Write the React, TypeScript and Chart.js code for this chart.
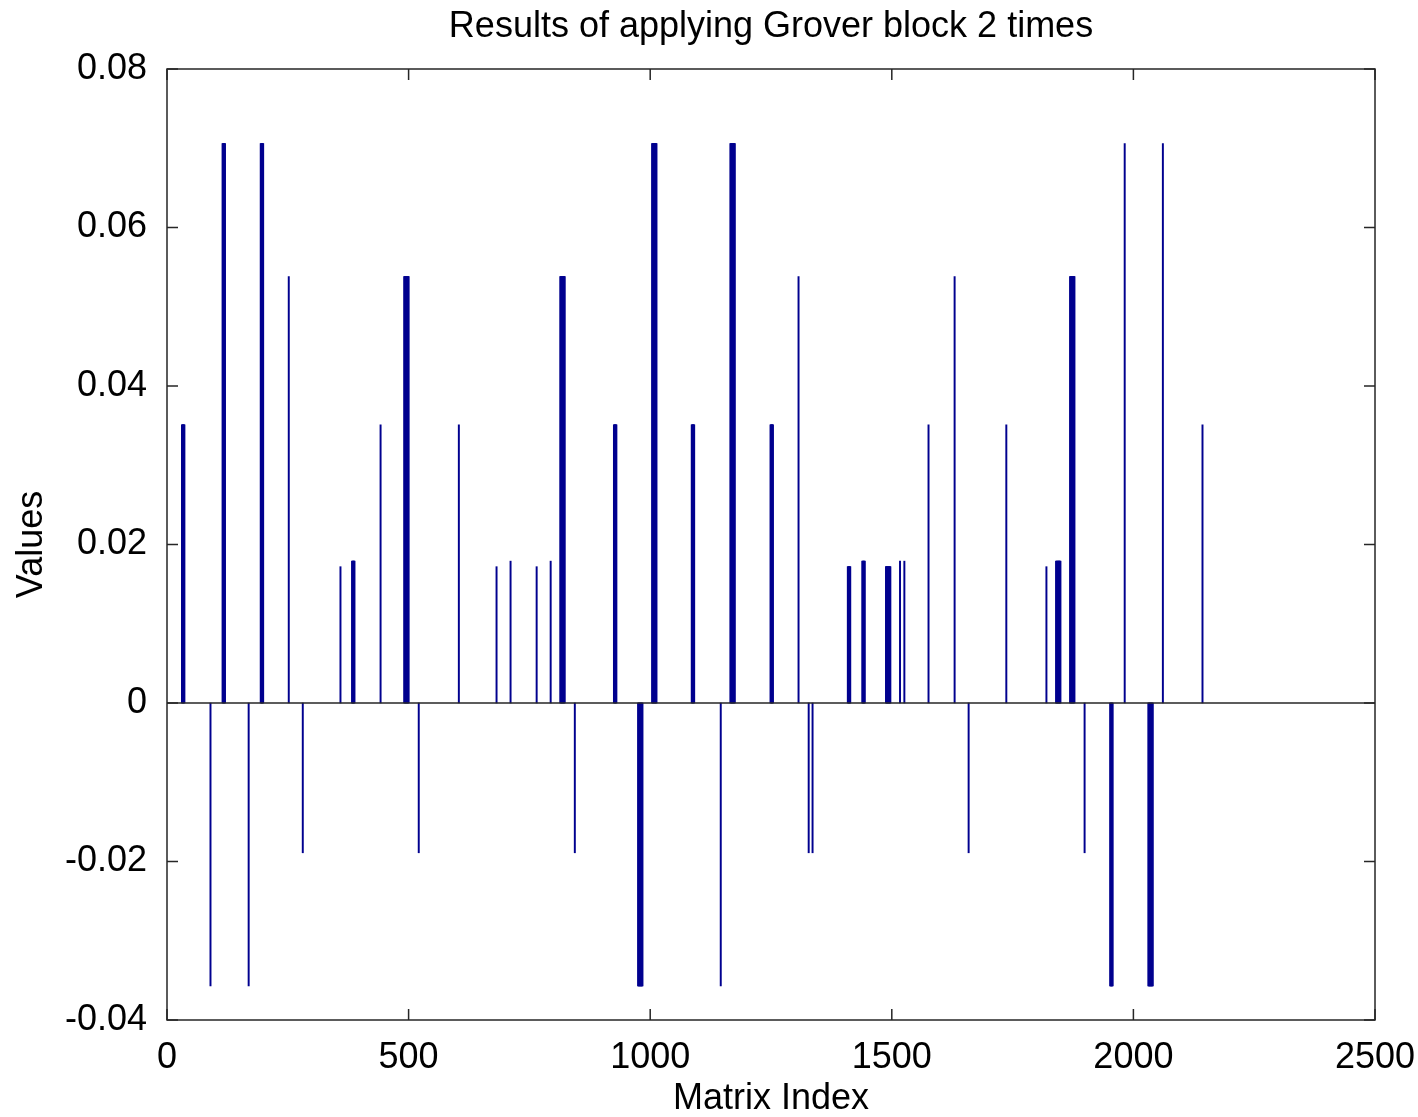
import React, { useEffect, useRef } from "react";
import { Chart, registerables } from "chart.js";

Chart.register(...registerables);

const chartTitle = "Results of applying Grover block 2 times";
const xAxisTitle = "Matrix Index";
const yAxisTitle = "Values";

const xTickValues = [0, 500, 1000, 1500, 2000, 2500];
const xTickLabels = ["0", "500", "1000", "1500", "2000", "2500"];
const yTickValues = [-0.04, -0.02, 0, 0.02, 0.04, 0.06, 0.08];
const yTickLabels = ["-0.04", "-0.02", "0", "0.02", "0.04", "0.06", "0.08"];

// matrix index (centre of each run of equal, adjacent entries)
const barIndex = [
  34, 90, 118, 169, 197, 252, 281, 359, 386, 442, 496, 521, 604, 682, 711, 765,
  794, 819, 844, 928, 980, 1009, 1089, 1146, 1171, 1252, 1307, 1328, 1336, 1412,
  1442, 1493, 1517, 1526, 1576, 1630, 1659, 1737, 1820, 1845, 1874, 1899, 1955,
  1982, 2036, 2061, 2143,
];

// value of those entries
const barValue = [
  0.0351, -0.0357, 0.0706, -0.0357, 0.0706, 0.0538, -0.0189, 0.0172, 0.0179,
  0.0351, 0.0538, -0.0189, 0.0351, 0.0172, 0.0179, 0.0172, 0.0179, 0.0538,
  -0.0189, 0.0351, -0.0357, 0.0706, 0.0351, -0.0357, 0.0706, 0.0351, 0.0538,
  -0.0189, -0.0189, 0.0172, 0.0179, 0.0172, 0.0179, 0.0179, 0.0351, 0.0538,
  -0.0189, 0.0351, 0.0172, 0.0179, 0.0538, -0.0189, -0.0357, 0.0706, -0.0357,
  0.0706, 0.0351,
];

// number of adjacent entries sharing the value
const barRun = [
  6, 1, 6, 1, 6, 1, 1, 1, 6, 1, 10, 1, 1, 1, 1, 1, 1, 10, 1, 6, 10, 10, 6, 1,
  10, 6, 1, 1, 1, 6, 6, 10, 1, 1, 1, 1, 1, 1, 1, 10, 10, 1, 6, 1, 10, 1, 1,
];

const FONT = "'Liberation Sans', Arial, Helvetica, sans-serif";
const FS = 36;

const framePlugin = {
  id: "matlabFrame",
  afterDatasetsDraw(chart: any) {
    const { ctx, chartArea: a, scales } = chart;
    const x = scales.x;
    const y = scales.y;
    ctx.save();
    ctx.strokeStyle = "#262626";
    ctx.lineWidth = 1.5;
    const y0 = y.getPixelForValue(0);
    ctx.beginPath();
    ctx.moveTo(a.left, y0);
    ctx.lineTo(a.right, y0);
    ctx.stroke();
    ctx.strokeRect(a.left, a.top, a.right - a.left, a.bottom - a.top);
    const tl = 11;
    ctx.beginPath();
    xTickValues.forEach((v) => {
      const px = x.getPixelForValue(v);
      ctx.moveTo(px, a.bottom);
      ctx.lineTo(px, a.bottom - tl);
      ctx.moveTo(px, a.top);
      ctx.lineTo(px, a.top + tl);
    });
    yTickValues.forEach((v) => {
      const py = y.getPixelForValue(v);
      ctx.moveTo(a.left, py);
      ctx.lineTo(a.left + tl, py);
      ctx.moveTo(a.right, py);
      ctx.lineTo(a.right - tl, py);
    });
    ctx.stroke();
    ctx.restore();
  },
};

export default function App() {
  const canvasRef = useRef<HTMLCanvasElement | null>(null);

  useEffect(() => {
    const canvas = canvasRef.current;
    if (!canvas) return;
    const points: { x: number; y: number }[] = [];
    barIndex.forEach((idx, i) => {
      const run = barRun[i];
      const start = idx - Math.floor(run / 2);
      for (let k = 0; k < run; k++) points.push({ x: start + k, y: barValue[i] });
    });

    const chart = new Chart(canvas, {
      type: "bar",
      data: {
        datasets: [
          {
            data: points as any,
            backgroundColor: "#00008F",
            borderWidth: 0,
            barThickness: 1.3,
          },
        ],
      },
      options: {
        animation: false,
        responsive: false,
        devicePixelRatio: 1,
        layout: { padding: { left: 0, right: 43, top: 0, bottom: 0 } },
        plugins: {
          legend: { display: false },
          tooltip: { enabled: false },
          title: {
            display: true,
            fullSize: false,
            text: chartTitle,
            color: "#000",
            font: { family: FONT, size: FS, weight: "normal" },
            padding: { top: 5, bottom: 20.8 },
          },
        },
        scales: {
          x: {
            type: "linear",
            min: 0,
            max: 2500,
            offset: false,
            grid: { display: false, offset: false },
            border: { display: false },
            afterBuildTicks: (scale: any) => {
              scale.ticks = xTickValues.map((v) => ({ value: v }));
            },
            afterFit: (scale: any) => {
              scale.height = 97;
              scale.paddingLeft = 0;
              scale.paddingRight = 0;
            },
            ticks: {
              padding: 8,
              color: "#000",
              font: { family: FONT, size: FS },
              maxRotation: 0,
              autoSkip: false,
              callback: (v: any) => xTickLabels[xTickValues.indexOf(Number(v))] ?? "",
            },
            title: {
              display: true,
              text: xAxisTitle,
              color: "#000",
              font: { family: FONT, size: FS },
              padding: { top: 0, bottom: -4 },
            },
          },
          y: {
            type: "linear",
            min: -0.04,
            max: 0.08,
            grid: { display: false },
            border: { display: false },
            afterBuildTicks: (scale: any) => {
              scale.ticks = yTickValues.map((v) => ({ value: v }));
            },
            afterFit: (scale: any) => {
              scale.width = 167;
              scale.paddingTop = 0;
              scale.paddingBottom = 0;
            },
            ticks: {
              padding: 12,
              color: "#000",
              font: { family: FONT, size: FS },
              autoSkip: false,
              callback: (v: any) => {
                const i = yTickValues.findIndex((t) => Math.abs(t - Number(v)) < 1e-9);
                return i >= 0 ? yTickLabels[i] : "";
              },
            },
            title: {
              display: true,
              text: yAxisTitle,
              color: "#000",
              font: { family: FONT, size: FS },
              padding: { top: 10.4, bottom: 0 },
            },
          },
        },
      },
      plugins: [framePlugin],
    });

    return () => chart.destroy();
  }, []);

  return (
    <div style={{ position: "absolute", left: 0, top: 0, width: 1418, height: 1117, background: "#fff" }}>
      <canvas ref={canvasRef} width={1418} height={1117} style={{ display: "block" }} />
    </div>
  );
}
